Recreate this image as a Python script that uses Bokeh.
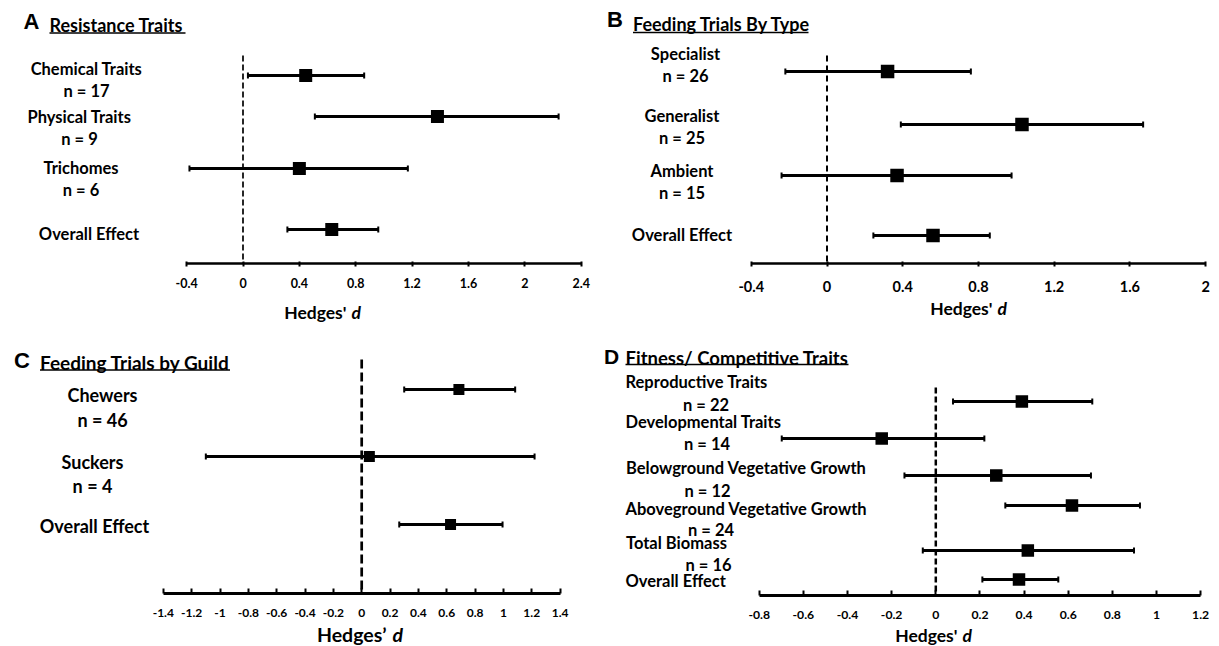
import math
from bokeh.plotting import figure
from bokeh.models import Range1d, FixedTicker, CustomJSTickFormatter
from bokeh.layouts import column, row
from bokeh.embed import file_html
from bokeh.resources import INLINE
from bokeh.core.properties import value

# ---------------- DATA ----------------
NULL_EFFECT = 0.0

A_categories = ["Chemical Traits", "Physical Traits", "Trichomes", "Overall Effect"]
A_n = ["n = 17", "n = 9", "n = 6"]
A_mean = [0.445, 1.38, 0.40, 0.63]
A_low = [0.035, 0.51, -0.38, 0.315]
A_high = [0.86, 2.24, 1.17, 0.96]
A_ticks = [-0.4, 0, 0.4, 0.8, 1.2, 1.6, 2.0, 2.4]

B_categories = ["Specialist", "Generalist", "Ambient", "Overall Effect"]
B_n = ["n = 26", "n = 25", "n = 15"]
B_mean = [0.32, 1.03, 0.37, 0.56]
B_low = [-0.22, 0.39, -0.24, 0.245]
B_high = [0.76, 1.67, 0.975, 0.86]
B_ticks = [-0.4, 0, 0.4, 0.8, 1.2, 1.6, 2.0]

C_categories = ["Chewers", "Suckers", "Overall Effect"]
C_n = ["n = 46", "n = 4"]
C_mean = [0.686, 0.054, 0.627]
C_low = [0.30, -1.10, 0.265]
C_high = [1.083, 1.22, 0.994]
C_ticks = [-1.4, -1.2, -1.0, -0.8, -0.6, -0.4, -0.2, 0, 0.2, 0.4, 0.6, 0.8, 1.0, 1.2, 1.4]

D_categories = ["Reproductive Traits", "Developmental Traits", "Belowground Vegetative Growth",
                "Aboveground Vegetative Growth", "Total Biomass", "Overall Effect"]
D_n = ["n = 22", "n = 14", "n = 12", "n = 24", "n = 16"]
D_mean = [0.39, -0.245, 0.274, 0.617, 0.417, 0.377]
D_low = [0.078, -0.698, -0.142, 0.315, -0.059, 0.211]
D_high = [0.709, 0.22, 0.703, 0.925, 0.898, 0.555]
D_ticks = [-0.8, -0.6, -0.4, -0.2, 0, 0.2, 0.4, 0.6, 0.8, 1.0, 1.2]

# ---------------- LAYOUT (page pixel coordinates) ----------------
LBL = "Lato"
HEAD = "Liberation Sans"

panels = [
    dict(letter="A", title="Resistance Traits", cats=A_categories, ns=A_n, mean=A_mean, low=A_low,
         high=A_high, ticks=A_ticks, bounds=(-0.4, 2.4), xlabel="Hedges'",
         origin=(0, 0), size=(600, 323), axis_y=263, zero_px=242.5, unit_px=140.9,
         rows=[75, 116, 168, 229], dash_top=55, dash="6 3", dash_w=1.7,
         cat_x=[86, 79, 80.5, 88.5], cat_y=[68, 116, 167, 233.5], cat_align="center",
         n_x=[86, 79, 80.5], n_y=[90, 138, 189],
         lbl_size=16.5, tick_size=12.5, sq=13, bar_w=3, cap=6, axis_w=2.5, tick_in=2, tick_out=3,
         letter_x=23, letter_y=21, letter_size=22, title_x=49, title_y=24, title_size=18,
         ul_y=32.5, ul_x1=185, hx=346, hy=311.5, h_size=17.5, d_gap=5, standoff=11),
    dict(letter="B", title="Feeding Trials By Type", cats=B_categories, ns=B_n, mean=B_mean, low=B_low,
         high=B_high, ticks=B_ticks, bounds=(-0.4, 2.0), xlabel="Hedges'",
         origin=(600, 0), size=(619, 323), axis_y=263, zero_px=826.5, unit_px=189.3,
         rows=[71, 124, 175, 235], dash_top=55, dash="6 4", dash_w=2,
         cat_x=[685, 681.5, 681.5, 681.5], cat_y=[53.5, 115.5, 170.5, 234], cat_align="center",
         n_x=[685, 681.5, 681.5], n_y=[75.5, 137, 192],
         lbl_size=16.5, tick_size=14.5, sq=13.5, bar_w=3, cap=6, axis_w=2.5, tick_in=2, tick_out=3,
         letter_x=606.5, letter_y=19, letter_size=22, title_x=632.5, title_y=23, title_size=18,
         ul_y=32, ul_x1=808, hx=992, hy=308, h_size=17.5, d_gap=5, standoff=14),
    dict(letter="C", title="Feeding Trials by Guild", cats=C_categories, ns=C_n, mean=C_mean, low=C_low,
         high=C_high, ticks=C_ticks, bounds=(-1.4, 1.4), xlabel="Hedges\u2019",
         origin=(0, 323), size=(600, 323), axis_y=593, zero_px=361.2, unit_px=141.7,
         rows=[389, 456, 524], dash_top=359, dash="9 4", dash_w=2.7,
         cat_x=[102, 92, 94], cat_y=[394.5, 461, 525.5], cat_align="center",
         n_x=[102, 92], n_y=[419, 485],
         lbl_size=18, tick_size=12, sq=11, bar_w=3, cap=6, axis_w=3, tick_in=5, tick_out=0,
         letter_x=13.5, letter_y=359.5, letter_size=22, title_x=39.5, title_y=361.5, title_size=19,
         ul_y=369.5, ul_x1=229.5, hx=386, hy=634, h_size=19.5, d_gap=6, standoff=15),
    dict(letter="D", title="Fitness/ Competitive Traits", cats=D_categories, ns=D_n, mean=D_mean,
         low=D_low, high=D_high, ticks=D_ticks, bounds=(-0.8, 1.2), xlabel="Hedges'",
         origin=(600, 323), size=(619, 323), axis_y=595, zero_px=935.3, unit_px=220.7,
         rows=[401, 438, 475, 505, 550, 579], dash_top=387, dash="6 3", dash_w=2.5,
         cat_x=[625, 625, 625.5, 625, 625.5, 625], cat_y=[381.7, 421, 467.7, 508, 542.3, 580],
         cat_align="left",
         n_x=[705.5, 706.5, 707, 710.5, 708], n_y=[404, 443.3, 490, 529.7, 564.3],
         lbl_size=16.5, tick_size=12.2, sq=12.5, bar_w=2.8, cap=6, axis_w=3, tick_in=5, tick_out=0,
         letter_x=603.5, letter_y=356, letter_size=21, title_x=625, title_y=357, title_size=18.5,
         ul_y=364, ul_x1=848, hx=957, hy=635, h_size=17.5, d_gap=5, standoff=15),
]


def build(c):
    left, top = c["origin"]
    W, H = c["size"]
    z, u = c["zero_px"], c["unit_px"]

    def X(px):
        return (px - z) / u

    def Y(py):
        return py - top

    p = figure(width=W, height=H, output_backend="svg", toolbar_location=None,
               x_range=Range1d(X(left), X(left + W)), y_range=Range1d(H, 0),
               y_axis_location=None, min_border=0, min_border_left=0, min_border_right=0,
               min_border_top=0, min_border_bottom=0)
    p.outline_line_color = None
    p.xgrid.visible = False
    p.ygrid.visible = False
    p.background_fill_color = "white"
    p.border_fill_color = "white"

    ax = p.xaxis[0]
    ax.fixed_location = Y(c["axis_y"])
    ax.ticker = FixedTicker(ticks=c["ticks"])
    ax.bounds = c["bounds"]
    ax.formatter = CustomJSTickFormatter(code="return Number(tick.toFixed(2)).toString();")
    ax.axis_line_width = c["axis_w"]
    ax.axis_line_color = "black"
    ax.major_tick_line_width = 2
    ax.major_tick_line_color = "black"
    ax.major_tick_in = c["tick_in"]
    ax.major_tick_out = c["tick_out"]
    ax.minor_tick_line_color = None
    ax.major_label_text_font = LBL
    ax.major_label_text_font_style = "bold"
    ax.major_label_text_font_size = f"{c['tick_size']}px"
    ax.major_label_text_color = "black"
    ax.major_label_standoff = c["standoff"]

    rows = [Y(r) for r in c["rows"]]

    # null-effect dashed line
    p.segment(x0=[NULL_EFFECT], x1=[NULL_EFFECT], y0=[Y(c["dash_top"])], y1=[Y(c["axis_y"])],
              line_color="black", line_width=c["dash_w"], line_dash=c["dash"])

    # confidence intervals
    p.segment(x0=c["low"], x1=c["high"], y0=rows, y1=rows, line_color="black", line_width=c["bar_w"])
    p.scatter(x=c["low"] + c["high"], y=rows + rows, marker="dash", angle=math.pi / 2,
              size=c["cap"], line_color="black", line_width=2)
    # effect sizes
    p.scatter(x=c["mean"], y=rows, marker="square", size=c["sq"], fill_color="black", line_color=None)

    common = dict(text_baseline="middle", text_font=value(LBL), text_font_style="bold",
                  text_color="black")
    # category labels
    p.text(x=[X(v) for v in c["cat_x"]], y=[Y(v) for v in c["cat_y"]], text=c["cats"],
           text_align=c["cat_align"], text_font_size=f"{c['lbl_size']}px", **common)
    p.text(x=[X(v) for v in c["n_x"]], y=[Y(v) for v in c["n_y"]], text=c["ns"],
           text_align="center", text_font_size=f"{c['lbl_size']}px", **common)

    # panel letter and underlined heading
    p.text(x=[X(c["letter_x"])], y=[Y(c["letter_y"])], text=[c["letter"]], text_align="left",
           text_baseline="middle", text_font=value(HEAD), text_font_style="bold",
           text_font_size=f"{c['letter_size']}px", text_color="black")
    p.text(x=[X(c["title_x"])], y=[Y(c["title_y"])], text=[c["title"]], text_align="left",
           text_font_size=f"{c['title_size']}px", **common)
    p.segment(x0=[X(c["title_x"])], x1=[X(c["ul_x1"])], y0=[Y(c["ul_y"])], y1=[Y(c["ul_y"])],
              line_color="black", line_width=1.3)

    # axis title: Hedges' d (italic d)
    p.text(x=[X(c["hx"])], y=[Y(c["hy"])], text=[c["xlabel"]], text_align="right",
           text_font_size=f"{c['h_size']}px", **common)
    p.text(x=[X(c["hx"] + c["d_gap"])], y=[Y(c["hy"])], text=["d"], text_align="left",
           text_baseline="middle", text_font=value(LBL), text_font_style="bold italic",
           text_font_size=f"{c['h_size']}px", text_color="black")
    return p


figs = [build(c) for c in panels]
layout = column(row(figs[0], figs[1], spacing=0), row(figs[2], figs[3], spacing=0), spacing=0)

open("out.html", "w").write(file_html(layout, INLINE))
